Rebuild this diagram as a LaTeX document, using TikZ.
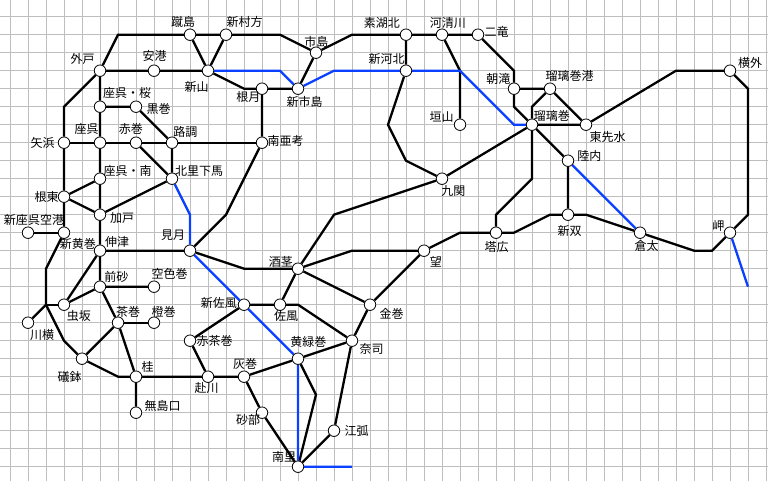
\documentclass[tikz,border=0pt]{standalone}
\usepackage{fontspec}
\newfontfamily\jp{Noto Sans CJK JP}
\definecolor{blueline}{RGB}{10,64,255}
\definecolor{gridc}{RGB}{190,190,190}
\pgfdeclarelayer{gridlayer}
\pgfdeclarelayer{background}
\pgfsetlayers{gridlayer,background,main}
\begin{document}
\begin{tikzpicture}[x=18pt,y=-18pt,
  rail/.style={line width=2.3pt,draw=black},
  bl/.style={line width=2.3pt,draw=blueline},
  st/.style={circle,draw=black,fill=white,line width=0.8pt,minimum size=11.5pt,inner sep=0pt},
  lab/.style={font=\jp\fontsize{12}{12}\selectfont,inner sep=0pt,text height=9.6pt,text depth=0.8pt},
  gridl/.style={draw=gridc,line width=0.8pt}]
% stations
\node[st] (keshima) at (10,1) {};
\node[st] (shinmura) at (12,1) {};
\node[st] (gaito) at (5,3) {};
\node[st] (ankou) at (8,3) {};
\node[st] (shinzan) at (11,3) {};
\node[st] (negetsu) at (14,4) {};
\node[st] (zakura) at (5,5) {};
\node[st] (kuromaki) at (7,5) {};
\node[st] (yahama) at (3,7) {};
\node[st] (zago) at (5,7) {};
\node[st] (akamaki) at (7,7) {};
\node[st] (rocho) at (9,7) {};
\node[st] (nanako) at (14,7) {};
\node[st] (zaminami) at (5,9) {};
\node[st] (kitasato) at (9,9) {};
\node[st] (neto) at (3,10) {};
\node[st] (kado) at (5,11) {};
\node[st] (kuko) at (1,12) {};
\node[st] (shinko) at (3,12) {};
\node[st] (shinzu) at (5,13) {};
\node[st] (mizuki) at (10,13) {};
\node[st] (maesa) at (5,15) {};
\node[st] (sorairo) at (8,15) {};
\node[st] (mushi) at (3,16) {};
\node[st] (kawayoko) at (1,17) {};
\node[st] (chamaki) at (6,17) {};
\node[st] (daidai) at (8,17) {};
\node[st] (akacha) at (10,18) {};
\node[st] (shinsafu) at (13,16) {};
\node[st] (isobachi) at (4,19) {};
\node[st] (katsura) at (7,20) {};
\node[st] (fukawa) at (11,20) {};
\node[st] (haimaki) at (13,20) {};
\node[st] (mushima) at (7,22) {};
\node[st] (sakakuki) at (16,14) {};
\node[st] (nozomi) at (23,13) {};
\node[st] (toko) at (27,12) {};
\node[st] (safu) at (15,16) {};
\node[st] (kanamaki) at (20,16) {};
\node[st] (naji) at (19,18) {};
\node[st] (kimidori) at (16,19) {};
\node[st] (sunabe) at (14,22) {};
\node[st] (eko) at (18,23) {};
\node[st] (nanri) at (16,25) {};
\node[st] (ichijima) at (17,2) {};
\node[st] (shinichi) at (16,4) {};
\node[st] (sokita) at (22,1) {};
\node[st] (kasei) at (24,1) {};
\node[st] (niryu) at (26,1) {};
\node[st] (shinkawa) at (22,3) {};
\node[st] (kakiyama) at (25,6) {};
\node[st] (kyuseki) at (24,9) {};
\node[st] (asataki) at (28,4) {};
\node[st] (rurikou) at (30,4) {};
\node[st] (ruri) at (29,6) {};
\node[st] (higashi) at (32,6) {};
\node[st] (rikunai) at (31,8) {};
\node[st] (shinso) at (31,11) {};
\node[st] (yokoto) at (40,3) {};
\node[st] (misaki) at (40,12) {};
\node[st] (kurata) at (35,12) {};
% bend points
\coordinate (b1) at (6,1);
\coordinate (b2) at (15,1);
\coordinate (b3) at (19,1);
\coordinate (b4) at (28,3);
\coordinate (b5) at (3,5);
\coordinate (b6) at (2,14);
\coordinate (b7) at (2,16);
\coordinate (b8) at (3,18);
\coordinate (b9) at (6,20);
\coordinate (b10) at (13,4);
\coordinate (b11) at (12,11);
\coordinate (b12) at (13,14);
\coordinate (b13) at (19,13);
\coordinate (b14) at (25,12);
\coordinate (b15) at (28,12);
\coordinate (b16) at (30,11);
\coordinate (b17) at (32,11);
\coordinate (b18) at (38,13);
\coordinate (b19) at (39,13);
\coordinate (b20) at (41,11);
\coordinate (b21) at (41,4);
\coordinate (b22) at (37,3);
\coordinate (b23) at (16,16);
\coordinate (b24) at (17,21);
\coordinate (b25) at (18,11);
\coordinate (b26) at (21,6);
\coordinate (b27) at (22,8);
\coordinate (b28) at (25,3);
\coordinate (b29) at (28,5);
\coordinate (b30) at (29,5);
\coordinate (b31) at (29,9);
\coordinate (b32) at (27,11);
\coordinate (c1) at (15,3);
\coordinate (c2) at (18,3);
\coordinate (c3) at (28,6);
\coordinate (c4) at (10,11);
\coordinate (c5) at (19,25);
\coordinate (c6) at (41,15);
% grid, frame, labels
\begin{scope}[x=1pt,y=-1pt,shift={(-10,-16.7)}]
\useasboundingbox (0,0) rectangle (768,481);
\begin{pgfonlayer}{gridlayer}
\fill[white] (0,0) rectangle (768,481);
\foreach \i in {0,...,42} \draw[gridl] ({10+18*\i},0) -- ({10+18*\i},481);
\foreach \j in {0,...,25} \draw[gridl] (0,{16.7+18*\j}) -- (768,{16.7+18*\j});
\end{pgfonlayer}
\node[lab] (l1) at (183,21.7) {蹴島};
\node[lab] (l2) at (244.5,21.7) {新村方};
\node[lab] (l3) at (82.7,59.2) {外戸};
\node[lab] (l4) at (154.5,56.2) {安港};
\node[lab] (l5) at (196.7,87.2) {新山};
\node[lab] (l6) at (248.3,97.5) {根月};
\node[lab] (l7) at (127,93.3) {座呉・桜};
\node[lab] (l8) at (158.7,109) {黒巻};
\node[lab] (l9) at (42.5,143.3) {矢浜};
\node[lab] (l10) at (86.7,129.2) {座呉};
\node[lab] (l11) at (130.8,129.2) {赤巻};
\node[lab] (l12) at (185.3,131.7) {路調};
\node[lab] (l13) at (285.5,140.8) {南亜考};
\node[lab] (l14) at (127.5,170.8) {座呉・南};
\node[lab] (l15) at (199.2,171.5) {北里下馬};
\node[lab] (l16) at (46.7,197.2) {根東};
\node[lab] (l17) at (122,218.3) {加戸};
\node[lab] (l18) at (34,220.2) {新座呉空港};
\node[lab] (l19) at (77.8,244.2) {新黄巻};
\node[lab] (l20) at (117.2,242.5) {伸津};
\node[lab] (l21) at (173,235.5) {見月};
\node[lab] (l22) at (116.3,277.2) {前砂};
\node[lab] (l23) at (169.5,274.2) {空色巻};
\node[lab] (l24) at (78.8,315.8) {虫坂};
\node[lab] (l25) at (42,335) {川横};
\node[lab] (l26) at (128,311.7) {茶巻};
\node[lab] (l27) at (163.7,311.7) {橙巻};
\node[lab] (l28) at (218.8,303.2) {新佐風};
\node[lab] (l29) at (214.5,341) {赤茶巻};
\node[lab] (l30) at (69.7,376.7) {礒鉢};
\node[lab] (l31) at (147.5,366.7) {桂};
\node[lab] (l32) at (206.7,388.3) {赴川};
\node[lab] (l33) at (245,364.2) {灰巻};
\node[lab] (l34) at (162.5,405.8) {無島口};
\node[lab] (l35) at (248,420.5) {砂部};
\node[lab] (l36) at (280.8,262.2) {酒茎};
\node[lab] (l37) at (435.8,262.2) {望};
\node[lab] (l38) at (496.7,247.2) {塔広};
\node[lab] (l39) at (286,316.5) {佐風};
\node[lab] (l40) at (391.7,314.2) {金巻};
\node[lab] (l41) at (371.7,349.2) {奈司};
\node[lab] (l42) at (308.3,341.8) {黄緑巻};
\node[lab] (l43) at (356.7,430.8) {江弧};
\node[lab] (l44) at (284,457.5) {南里};
\node[lab] (l45) at (316.3,42) {市島};
\node[lab] (l46) at (304.7,102.5) {新市島};
\node[lab] (l47) at (381.8,23.5) {素湖北};
\node[lab] (l48) at (447.8,23.5) {河清川};
\node[lab] (l49) at (496.7,32.5) {二竜};
\node[lab] (l50) at (386.5,59.2) {新河北};
\node[lab] (l51) at (441.7,116.8) {垣山};
\node[lab] (l52) at (453.3,191.2) {九関};
\node[lab] (l53) at (498.3,79.2) {朝滝};
\node[lab] (l54) at (569.7,75.8) {瑠璃巻港};
\node[lab] (l55) at (551.8,115.8) {瑠璃巻};
\node[lab] (l56) at (607.5,137.5) {東先水};
\node[lab] (l57) at (589.3,156.2) {陸内};
\node[lab] (l58) at (750,63.3) {横外};
\node[lab] (l59) at (569.7,230.8) {新双};
\node[lab] (l60) at (646.7,245.8) {倉太};
\node[lab] (l61) at (718.3,225.8) {岬};
\end{scope}
% connectors
\begin{pgfonlayer}{background}
\draw[rail] (gaito) -- (b1) -- (keshima) -- (shinmura) -- (b2) -- (ichijima) -- (b3) -- (sokita) -- (kasei) -- (niryu) -- (b4) -- (asataki) -- (rurikou) -- (higashi);
\draw[rail] (gaito) -- (b5) -- (yahama) -- (neto) -- (shinko) -- (b6) -- (b7) -- (kawayoko);
\draw[rail] (b7) -- (mushi);
\draw[rail] (b7) -- (b8) -- (isobachi) -- (b9) -- (katsura) -- (fukawa) -- (haimaki) -- (kimidori) -- (naji);
\draw[rail] (gaito) -- (ankou) -- (shinzan) -- (b10) -- (negetsu) -- (shinichi) -- (ichijima);
\draw[rail] (keshima) -- (shinzan) -- (shinmura);
\draw[rail] (gaito) -- (zakura) -- (zago) -- (zaminami) -- (kado) -- (shinzu) -- (maesa) -- (chamaki) -- (katsura) -- (mushima);
\draw[rail] (zakura) -- (kuromaki) -- (rocho) -- (kitasato);
\draw[rail] (yahama) -- (zago) -- (akamaki) -- (rocho) -- (nanako);
\draw[rail] (akamaki) -- (kitasato);
\draw[rail] (neto) -- (zaminami);
\draw[rail] (neto) -- (kado) -- (kitasato);
\draw[rail] (kuko) -- (shinko);
\draw[rail] (negetsu) -- (nanako) -- (b11) -- (mizuki) -- (shinzu);
\draw[rail] (mizuki) -- (b12) -- (sakakuki) -- (b13) -- (nozomi) -- (b14) -- (toko) -- (b15) -- (b16) -- (shinso) -- (b17) -- (kurata) -- (b18) -- (b19) -- (misaki) -- (b20) -- (b21) -- (yokoto) -- (b22) -- (higashi);
\draw[rail] (shinzu) -- (mushi) -- (maesa) -- (sorairo);
\draw[rail] (chamaki) -- (daidai);
\draw[rail] (chamaki) -- (isobachi);
\draw[rail] (shinsafu) -- (akacha) -- (fukawa);
\draw[rail] (shinsafu) -- (safu) -- (b23) -- (naji) -- (kanamaki) -- (nozomi);
\draw[rail] (sakakuki) -- (safu);
\draw[rail] (sakakuki) -- (kanamaki);
\draw[rail] (naji) -- (eko) -- (nanri);
\draw[rail] (haimaki) -- (sunabe) -- (nanri);
\draw[rail] (kimidori) -- (b24) -- (nanri);
\draw[rail] (sakakuki) -- (b25) -- (kyuseki) -- (ruri);
\draw[rail] (sokita) -- (shinkawa) -- (b26) -- (b27) -- (kyuseki);
\draw[rail] (kasei) -- (b28) -- (kakiyama);
\draw[rail] (asataki) -- (b29) -- (ruri) -- (higashi);
\draw[rail] (rurikou) -- (b30) -- (ruri);
\draw[rail] (ruri) -- (rikunai) -- (shinso);
\draw[rail] (ruri) -- (b31) -- (b32) -- (toko);
\draw[bl] (shinzan) -- (c1) -- (shinichi) -- (c2) -- (shinkawa) -- (b28) -- (c3) -- (ruri);
\draw[bl] (kitasato) -- (c4) -- (mizuki) -- (shinsafu) -- (kimidori) -- (nanri) -- (c5);
\draw[bl] (rikunai) -- (kurata);
\draw[bl] (misaki) -- (c6);
\end{pgfonlayer}
\end{tikzpicture}
\end{document}
